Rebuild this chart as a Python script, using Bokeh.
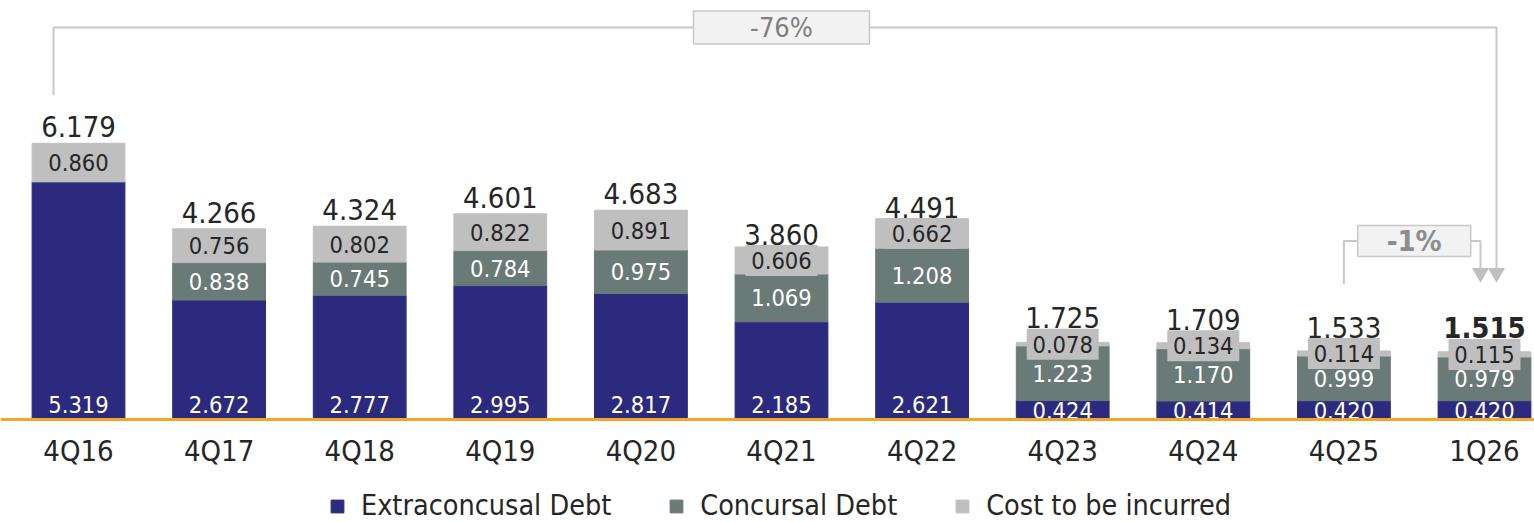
import numpy as np
from bokeh.plotting import figure
from bokeh.models import ColumnDataSource, Range1d, Span, Legend, LegendItem
from bokeh.embed import file_html
from bokeh.resources import INLINE
from bokeh.core.properties import value

# ---------------- data ----------------
categories = ["4Q16", "4Q17", "4Q18", "4Q19", "4Q20", "4Q21", "4Q22", "4Q23", "4Q24", "4Q25", "1Q26"]
extraconcursal = [5.319, 2.672, 2.777, 2.995, 2.817, 2.185, 2.621, 0.424, 0.414, 0.420, 0.420]
concursal = [0.0, 0.838, 0.745, 0.784, 0.975, 1.069, 1.208, 1.223, 1.170, 0.999, 0.979]
cost_to_incur = [0.860, 0.756, 0.802, 0.822, 0.891, 0.606, 0.662, 0.078, 0.134, 0.114, 0.115]
totals = [6.179, 4.266, 4.324, 4.601, 4.683, 3.860, 4.491, 1.725, 1.709, 1.533, 1.515]
series_names = ["Extraconcusal Debt", "Concursal Debt", "Cost to be incurred"]
change_all = "-76%"
change_last = "-1%"

# ---------------- style ----------------
FONT = "DejaVu Sans Condensed"
BLUE, GREEN, GREY = "#2B2A7E", "#6A7A76", "#BFBFBF"
ORANGE = "#F5A623"
DARK = "#262626"
W, H = 1534, 522
BASE = 419          # canvas px of zero line
PX = 44.7           # px per unit
STEP = 140.6        # px per category
FIRST = 78          # canvas px of first category centre

n = len(categories)
xs = np.arange(n)
ext = np.array(extraconcursal)
con = np.array(concursal)
cst = np.array(cost_to_incur)
tot = np.array(totals)

y0, y1 = -(H - BASE) / PX, BASE / PX
x0 = -FIRST / STEP
x1 = x0 + W / STEP

p = figure(width=W, height=H, x_range=Range1d(x0, x1), y_range=Range1d(y0, y1),
           output_backend="svg", toolbar_location=None,
           x_axis_location=None, y_axis_location=None, min_border=0)
p.outline_line_color = None
p.grid.visible = False
p.background_fill_color = "white"

src = ColumnDataSource(dict(x=xs, ext=ext, con=con, cost=cst))
rs = p.vbar_stack(["ext", "con", "cost"], x="x", width=0.66,
                  color=[BLUE, GREEN, GREY], source=src)

# baseline
p.add_layout(Span(location=0, dimension="width", line_color=ORANGE, line_width=3))

fnt = value(FONT)
VAL = "23.5px"

# extraconcursal labels
ext_y = np.minimum(ext / 2, 15 / PX)
p.text(x=xs, y=ext_y, text=[f"{v:.3f}" for v in ext], text_align="center",
       text_baseline="middle", text_color="white", text_font_size=VAL, text_font=fnt)

# concursal labels
m = con > 0
p.text(x=xs[m], y=(ext + con / 2)[m], text=[f"{v:.3f}" for v in con[m]], text_align="center",
       text_baseline="middle", text_color="white", text_font_size=VAL, text_font=fnt)

# cost labels
cost_y = ext + con + cst / 2
small = cst * PX < 30
p.rect(x=xs[small], y=cost_y[small], width=72, height=31, width_units="screen",
       height_units="screen", fill_color=GREY, line_color=None)
p.text(x=xs, y=cost_y, text=[f"{v:.3f}" for v in cst], text_align="center",
       text_baseline="middle", text_color=DARK, text_font_size=VAL, text_font=fnt)

# totals
top = ext + con + cst
tot_y = np.where(small, cost_y + 16 / PX, top + 6 / PX)
styles = ["normal"] * (n - 1) + ["bold"]
tsrc = ColumnDataSource(dict(x=xs, y=tot_y, t=[f"{v:.3f}" for v in tot], s=styles))
p.text(x="x", y="y", text="t", text_font_style="s", source=tsrc, text_align="center",
       text_baseline="bottom", text_color=DARK, text_font_size="29px", text_font=fnt)

# category labels
p.text(x=xs, y=np.zeros(n), text=categories, y_offset=31, text_align="center",
       text_baseline="middle", text_color=DARK, text_font_size="29px", text_font=fnt)

# ---------------- change brackets ----------------
LINE = "#C8C8C8"
ytip = top[-1] + 73 / PX
xa = 0 - 25 / STEP
xb = (n - 1) + 12 / STEP
ya = top[0] + 48 / PX
ytop = y1 - 27 / PX
p.line([xa, xa, xb, xb], [ya, ytop, ytop, ytip + 10 / PX], line_color=LINE, line_width=2)

xcl = n - 2
xcr = (n - 1) - 4 / STEP
ymid = top[-2] + 110 / PX
ylow = top[-2] + 67 / PX
p.line([xcl, xcl, xcr, xcr], [ylow, ymid, ymid, ytip + 10 / PX], line_color=LINE, line_width=2)

p.scatter(x=[xcr, xb], y=[ytip + 6 / PX] * 2, marker="inverted_triangle", size=17,
          fill_color=GREY, line_color=None)

p.rect(x=[(n - 1) / 2], y=[ytop], width=176, height=33, width_units="screen", height_units="screen",
       fill_color="#F2F2F2", line_color=LINE, line_width=1.5)
p.text(x=[(n - 1) / 2], y=[ytop], text=[change_all], text_align="center", text_baseline="middle",
       text_color="#7F7F7F", text_font_size="27px", text_font=fnt)

p.rect(x=[n - 1.5], y=[ymid], width=113, height=31, width_units="screen", height_units="screen",
       fill_color="#F2F2F2", line_color=LINE, line_width=1.5)
p.text(x=[n - 1.5], y=[ymid], text=[change_last], text_align="center", text_baseline="middle",
       text_color="#8C8C8C", text_font_size="29px", text_font_style="bold", text_font=fnt)

# ---------------- legend ----------------
legend = Legend(items=[LegendItem(label=series_names[i], renderers=[rs[i]]) for i in range(3)],
                orientation="horizontal", location=(329, 0),
                glyph_width=16, glyph_height=16, label_standoff=16, spacing=57,
                padding=0, margin=0, label_text_font=FONT, label_text_font_size="28.5px",
                label_text_color=DARK, background_fill_alpha=0, border_line_alpha=0)
p.add_layout(legend)

open("out.html", "w").write(file_html(p, INLINE))
